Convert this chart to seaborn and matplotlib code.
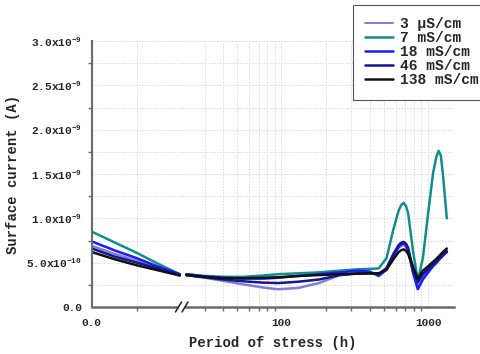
import numpy as np
import pandas as pd
import matplotlib
matplotlib.use("Agg")
import matplotlib.pyplot as plt
import seaborn as sns
from matplotlib.ticker import FixedLocator, NullFormatter, FuncFormatter
from matplotlib.lines import Line2D
from matplotlib.patches import Rectangle
from matplotlib.font_manager import FontProperties

# ---------------- data (current in units of 1e-9 A) ----------------
series = ["3 µS/cm", "7 mS/cm", "18 mS/cm", "46 mS/cm", "138 mS/cm"]
colors = ["#7f7fd6", "#108e8e", "#1a1aff", "#16168e", "#111111"]

x_left = [0, 5, 10, 15, 19.5]
x_right = [22.5, 30, 40, 55, 75, 95, 130, 180, 250, 330, 400, 460, 520, 580,
           630, 655, 680, 705, 730, 790, 850, 920, 1000, 1080, 1140, 1180, 1220, 1260, 1340]

left_3uS = [0.69, 0.60, 0.52, 0.44, 0.36]
left_7mS = [0.85, 0.73, 0.61, 0.48, 0.37]
left_18mS = [0.74, 0.64, 0.55, 0.45, 0.37]
left_46mS = [0.66, 0.57, 0.50, 0.43, 0.36]
left_138mS = [0.62, 0.54, 0.47, 0.41, 0.355]

right_3uS = [0.36, 0.33, 0.295, 0.255, 0.22, 0.20, 0.215, 0.27, 0.36, 0.38, 0.38, 0.37,
             0.43, 0.58, 0.67, 0.69, 0.70, 0.68, 0.63, 0.40, 0.25, 0.35, 0.42, 0.47,
             0.50, 0.53, 0.555, 0.58, 0.62]
right_7mS = [0.37, 0.35, 0.34, 0.34, 0.355, 0.37, 0.38, 0.39, 0.41, 0.425, 0.43, 0.435,
             0.55, 0.88, 1.09, 1.15, 1.175, 1.14, 1.06, 0.62, 0.30, 0.55, 1.06, 1.51,
             1.70, 1.76, 1.71, 1.50, 1.00]
right_18mS = [0.37, 0.345, 0.33, 0.32, 0.32, 0.33, 0.35, 0.37, 0.39, 0.41, 0.40, 0.35,
              0.42, 0.58, 0.68, 0.71, 0.72, 0.70, 0.64, 0.38, 0.20, 0.31, 0.39, 0.46,
              0.50, 0.53, 0.555, 0.58, 0.62]
right_46mS = [0.36, 0.335, 0.31, 0.29, 0.275, 0.27, 0.285, 0.31, 0.36, 0.38, 0.38, 0.37,
              0.44, 0.60, 0.70, 0.725, 0.735, 0.715, 0.67, 0.42, 0.28, 0.37, 0.43, 0.48,
              0.515, 0.54, 0.565, 0.59, 0.63]
right_138mS = [0.36, 0.34, 0.325, 0.325, 0.33, 0.335, 0.35, 0.36, 0.37, 0.375, 0.38, 0.38,
               0.42, 0.54, 0.62, 0.64, 0.65, 0.635, 0.60, 0.45, 0.32, 0.41, 0.46, 0.51,
               0.545, 0.57, 0.595, 0.62, 0.66]

left_vals = [left_3uS, left_7mS, left_18mS, left_46mS, left_138mS]
right_vals = [right_3uS, right_7mS, right_18mS, right_46mS, right_138mS]

x_tick_labels = {0: "0.0", 100: "100", 1000: "1000"}

def build(xs, vals):
    rows = []
    for name, v in zip(series, vals):
        for x, y in zip(xs, v):
            rows.append({"x": x, "y": y * 1e-9, "series": name})
    return pd.DataFrame(rows)

df_left = build(x_left, left_vals)
df_right = build(x_right, right_vals)

# ---------------- style ----------------
sns.set_style("white")
plt.rcParams["font.family"] = ["Liberation Mono", "DejaVu Sans"]
plt.rcParams["font.weight"] = "bold"
plt.rcParams["mathtext.fontset"] = "custom"
plt.rcParams["mathtext.rm"] = "Liberation Mono:bold"
plt.rcParams["mathtext.it"] = "Liberation Mono:bold"
plt.rcParams["mathtext.bf"] = "Liberation Mono:bold"
plt.rcParams["mathtext.default"] = "rm"

W, H = 481, 354
fig = plt.figure(figsize=(W / 100, H / 100), dpi=100)

x0, xb, x1 = 91.7, 182.0, 454.0
ybot, ytop = 307.0, 41.0
axL = fig.add_axes([x0 / W, 1 - ybot / H, (xb - x0) / W, (ybot - ytop) / H])
axR = fig.add_axes([xb / W, 1 - ybot / H, (x1 - xb) / W, (ybot - ytop) / H], sharey=axL)

palette = dict(zip(series, colors))
for ax, d in ((axL, df_left), (axR, df_right)):
    sns.lineplot(data=d, x="x", y="y", hue="series", hue_order=series, palette=palette,
                 estimator=None, sort=False, linewidth=1.8, legend=False, ax=ax)
    ax.set_xlabel("")
    ax.set_ylabel("")

spine_c = "#6a6a6a"
grid_kw = dict(color="#d9d9d9", linestyle=(0, (1.5, 1.5)), linewidth=0.7)

# left axis
axL.set_xlim(0, 20)
axL.set_ylim(0, 3.0e-9)
axL.xaxis.set_major_locator(FixedLocator([0]))
axL.xaxis.set_minor_locator(FixedLocator([10]))
axL.xaxis.set_major_formatter(FuncFormatter(lambda v, p: x_tick_labels.get(int(round(v)), "")))
axL.yaxis.set_major_locator(FixedLocator([0, 0.5e-9, 1.0e-9, 1.5e-9, 2.0e-9, 2.5e-9, 3.0e-9]))
axL.yaxis.set_minor_locator(FixedLocator([0.25e-9, 0.75e-9, 1.25e-9, 1.75e-9, 2.25e-9, 2.75e-9]))

def yfmt(v, pos):
    if v < 1e-15:
        return "0.0"
    e = int(np.floor(np.log10(v) + 1e-9))
    m = v / 10 ** e
    return f"{m:.1f}x10$^{{{e}}}$"

axL.yaxis.set_major_formatter(FuncFormatter(yfmt))
for s in ("top", "right"):
    axL.spines[s].set_visible(False)
axR.set_xscale("log")
axR.set_xlim(21, 1500)
axR.xaxis.set_major_locator(FixedLocator([100, 1000]))
axR.xaxis.set_minor_locator(FixedLocator([30, 40, 50, 60, 70, 80, 90,
                                          200, 300, 400, 500, 600, 700, 800, 900]))
axR.xaxis.set_major_formatter(FuncFormatter(lambda v, p: x_tick_labels.get(int(round(v)), "")))
axR.xaxis.set_minor_formatter(NullFormatter())
for s in ("top", "right", "left"):
    axR.spines[s].set_visible(False)
axR.tick_params(axis="y", which="both", left=False, labelleft=False)

for ax in (axL, axR):
    ax.set_facecolor("none")
    ax.grid(True, which="both", **grid_kw)
    ax.set_axisbelow(True)
    ax.spines["bottom"].set_color(spine_c)
    ax.spines["bottom"].set_linewidth(1.8)
    ax.tick_params(axis="x", which="major", direction="out", length=4, width=1.2,
                   color=spine_c, labelsize=8, pad=4)
    ax.tick_params(axis="x", which="minor", direction="out", length=3, width=1.0,
                   color=spine_c, bottom=True)
axL.spines["left"].set_color(spine_c)
axL.spines["left"].set_linewidth(1.5)
axL.tick_params(axis="y", which="major", direction="out", length=4, width=1.2,
                color=spine_c, labelsize=8, pad=3)
axL.tick_params(axis="y", which="minor", direction="out", length=3, width=1.0,
                color=spine_c, left=True)

# axis labels
fig.text((x0 + x1) / 2 / W, 1 - 343 / H, "Period of stress (h)", ha="center", va="center",
         fontsize=10, fontweight="bold")
axL.set_ylabel("Surface current (A)", fontsize=10, fontweight="bold")
axL.yaxis.set_label_coords((20 - x0) / (xb - x0), 0.5)

# break marks on x axis
fig.patches.append(Rectangle(((xb - 3) / W, 1 - (ybot + 2) / H), 6 / W, 4 / H,
                             transform=fig.transFigure, facecolor="white",
                             edgecolor="none", zorder=5))
for cx in (xb - 3.5, xb + 3.0):
    fig.lines.append(Line2D([(cx - 3) / W, (cx + 3) / W],
                            [1 - (ybot + 5) / H, 1 - (ybot - 5) / H],
                            transform=fig.transFigure, color="#222222",
                            linewidth=1.1, zorder=6))

# legend
handles = [Line2D([], [], color=c, linewidth=1.8 if i else 1.4) for i, c in enumerate(colors)]
leg = fig.legend(handles, series, loc="upper left", bbox_to_anchor=(353 / W, 1 - 5 / H),
                 bbox_transform=fig.transFigure, frameon=True, fancybox=False,
                 edgecolor="#555555", framealpha=1, borderaxespad=0,
                 prop=FontProperties(family=["Liberation Mono", "DejaVu Sans"],
                                     weight="bold", size=10.5),
                 handlelength=1.9, handletextpad=0.45, labelspacing=0.0, borderpad=0.85)
leg.get_frame().set_linewidth(0.8)

fig.savefig("out.png", dpi=100)
